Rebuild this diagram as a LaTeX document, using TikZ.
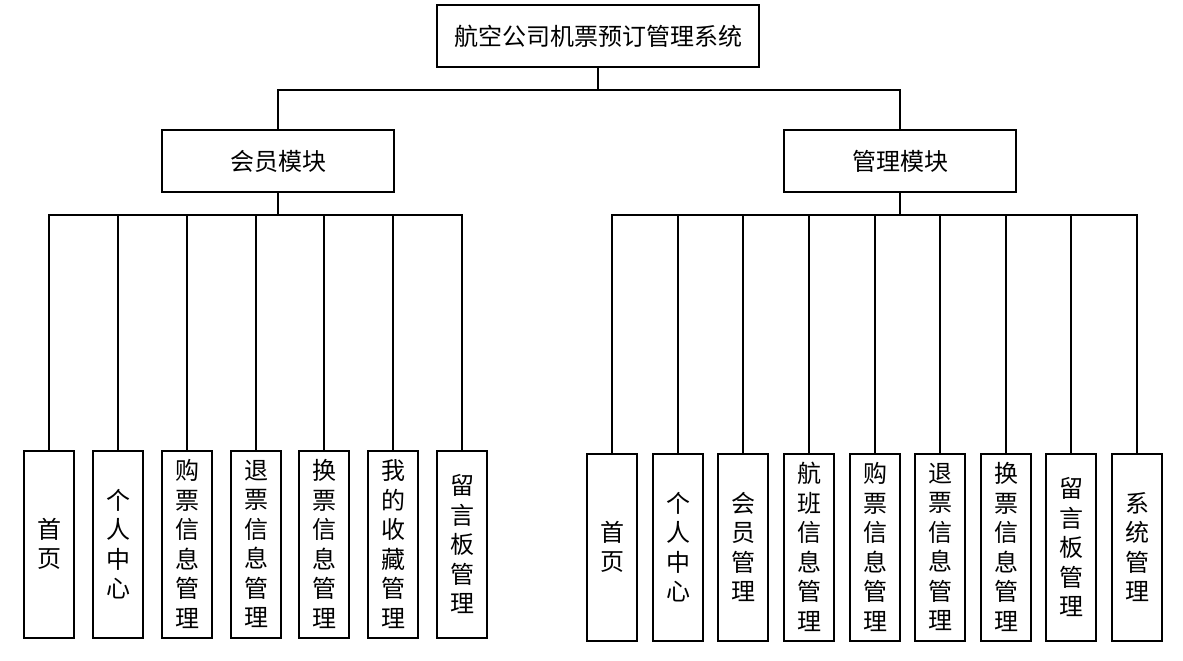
\documentclass[tikz,border=0pt]{standalone}
\usepackage{fontspec}
\setmainfont{Noto Sans CJK SC}
\usepackage{tikz}
\usetikzlibrary{positioning, calc}
\tikzset{
  box/.style={draw, line width=2pt, fill=white, inner sep=0pt, font=\fontsize{24}{29.5}\selectfont},
  leaf/.style={box, minimum width=50pt, minimum height=187pt, align=center},
  wire/.style={line width=2pt}
}

\begin{document}
\begin{tikzpicture}[x=1pt, y=-1pt]
\useasboundingbox (0,0) rectangle (1183,661);
% top level
\node[box, minimum width=322pt, minimum height=62pt] (sys) at (598,36) {航空公司机票预订管理系统};
\node[box, minimum width=232pt, minimum height=62pt] (mem) at (278,161) {会员模块};
\node[box, minimum width=232pt, minimum height=62pt] (adm) at (900,161) {管理模块};
\coordinate (bus0) at (598,90);
\draw[wire] (sys.south) -- (bus0) -| (mem.north);
\draw[wire] (bus0) -| (adm.north);

% member module
\node[leaf] (l1) at (49,544) {首\\页};
\node[leaf] (l2) at (118,544) {个\\人\\中\\心};
\node[leaf] (l3) at (187,544) {购\\票\\信\\息\\管\\理};
\node[leaf] (l4) at (256,544) {退\\票\\信\\息\\管\\理};
\node[leaf] (l5) at (324,544) {换\\票\\信\\息\\管\\理};
\node[leaf] (l6) at (393,544) {我\\的\\收\\藏\\管\\理};
\node[leaf] (l7) at (462,544) {留\\言\\板\\管\\理};
\coordinate (bus1) at (278,215);
\draw[wire] (mem.south) -- (bus1);
\foreach \i in {1,...,7}
  \draw[wire] (bus1) -| (l\i.north);

% admin module
\node[leaf] (r1) at (612,547) {首\\页};
\node[leaf] (r2) at (678,547) {个\\人\\中\\心};
\node[leaf] (r3) at (743,547) {会\\员\\管\\理};
\node[leaf] (r4) at (809,547) {航\\班\\信\\息\\管\\理};
\node[leaf] (r5) at (875,547) {购\\票\\信\\息\\管\\理};
\node[leaf] (r6) at (940,547) {退\\票\\信\\息\\管\\理};
\node[leaf] (r7) at (1006,547) {换\\票\\信\\息\\管\\理};
\node[leaf] (r8) at (1071,547) {留\\言\\板\\管\\理};
\node[leaf] (r9) at (1137,547) {系\\统\\管\\理};
\coordinate (bus2) at (900,215);
\draw[wire] (adm.south) -- (bus2);
\foreach \i in {1,...,9}
  \draw[wire] (bus2) -| (r\i.north);
\end{tikzpicture}
\end{document}
